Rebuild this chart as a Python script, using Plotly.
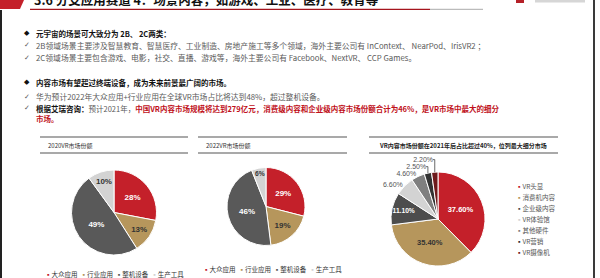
import plotly.graph_objects as go

W, H = 600, 278
def X(px): return px / W
def Y(py): return 1 - py / H

# ---------------- data ----------------
labels_market = ["大众应用", "行业应用", "整机设备", "生产工具"]
share_2020 = [28, 13, 49, 10]
share_2022 = [29, 19, 46, 6]
colors_market = ["#C4202A", "#B6965C", "#595959", "#D3D3D3"]
text_colors_market = ["#FFFFFF", "#333333", "#FFFFFF", "#333333"]

labels_content = ["VR头显", "消费机内容", "企业级内容", "VR体验馆", "其他硬件", "VR营销", "VR摄像机"]
share_content = [37.6, 35.4, 11.1, 6.6, 4.6, 2.5, 2.2]
colors_content = ["#C4202A", "#B6965C", "#4D4D4D", "#D3D3D3", "#7F7F7F", "#333333", "#6E1A1C"]
textpos_content = ["inside", "inside", "inside", "outside", "outside", "outside", "outside"]

title_text = "3.6 分支应用赛道 4：场景内容，如游戏、工业、医疗、教育等"
panel_titles = ["2020VR市场份额", "2022VR市场份额", "VR内容市场份额在2021年后占比超过40%，位列最大细分市场"]

CJK = "Noto Sans CJK SC, DejaVu Sans"
GRAY = "#5A5A5A"
RED = "#C0101A"
BLK = "#111111"

fig = go.Figure()

def pie(values, labels, colors, tcolors, cx, cy, r, template, textpos="inside", tsize=8):
    fig.add_trace(go.Pie(
        values=values, labels=labels, sort=False, direction="clockwise", rotation=0,
        marker=dict(colors=colors, line=dict(color="white", width=1)),
        texttemplate=template, textposition=textpos, insidetextorientation="horizontal",
        insidetextfont=dict(color=tcolors, size=tsize, family="Liberation Sans", weight="bold"),
        outsidetextfont=dict(color="#555555", size=7, family="Liberation Sans"),
        domain=dict(x=[X(cx - r), X(cx + r)], y=[Y(cy + r), Y(cy - r)]),
        showlegend=False, hoverinfo="label+percent",
    ))

pie(share_2020, labels_market, colors_market, text_colors_market, 114, 212.5, 42.5, "%{value}%")
pie(share_2022, labels_market, colors_market, text_colors_market, 266, 206.5, 39, "%{value}%")
pie(share_content, labels_content, colors_content,
    ["#FFFFFF", "#333333", "#FFFFFF", "#333333", "#333333", "#333333", "#333333"],
    438, 219, 47, "%{value:.2f}%", textpos=textpos_content, tsize=7.5)

ann = []
shapes = []

def text(px, py, s, size=7.8, color=GRAY, xanchor="left", weight="normal", family=CJK):
    ann.append(dict(x=X(px), y=Y(py), xref="paper", yref="paper", text=s, showarrow=False,
                    xanchor=xanchor, yanchor="middle", borderpad=0,
                    font=dict(size=size, color=color, family=family, weight=weight)))

def line(x0, y0, x1, y1, color, width=1):
    shapes.append(dict(type="line", xref="paper", yref="paper", x0=X(x0), y0=Y(y0), x1=X(x1), y1=Y(y1),
                       line=dict(color=color, width=width)))

def rect(x0, y0, x1, y1, color):
    shapes.append(dict(type="rect", xref="paper", yref="paper", x0=X(x0), y0=Y(y0), x1=X(x1), y1=Y(y1),
                       fillcolor=color, line=dict(width=0)))

# header
shapes.append(dict(type="path", xref="paper", yref="paper",
                   path=f"M {X(0)} {Y(0)} L {X(24)} {Y(0)} L {X(20)} {Y(9)} L {X(0)} {Y(9)} Z",
                   fillcolor="#C4202A", line=dict(width=0)))
text(33, -0.5, title_text, size=12.5, color=BLK, weight="bold")
line(30, 9.3, 430, 9.3, "#A5141D", 1.2)
line(430, 9.3, 483, 9.3, "#BBBBBB", 1.2)
rect(516, 0, 524, 3, "#B52028")
rect(535, 0, 585, 2.5, "#D6D6D6")
# page borders
rect(0, 10, 2, 278, "#222222")
rect(593, 0, 595, 278, "#3A3A3A")

# body text
text(27, 33, "◆", size=7, color=BLK, xanchor="center", family="DejaVu Sans")
text(35, 33, "元宇宙的场景可大致分为 2B、 2C两类：", size=7.5, color=BLK, weight="bold")
text(27, 45, "✓", size=7, color=GRAY, xanchor="center", family="DejaVu Sans")
text(35, 45, "2B领域场景主要涉及智慧教育、智慧医疗、工业制造、房地产施工等多个领域，海外主要公司有 InContext、 NearPod、IrisVR2 ；")
text(27, 57.5, "✓", size=7, color=GRAY, xanchor="center", family="DejaVu Sans")
text(35, 57.5, "2C领域场景主要包含游戏、电影，社交、直播、游戏等，海外主要公司有 Facebook、NextVR、 CCP Games。")
text(27, 82.5, "◆", size=7, color=BLK, xanchor="center", family="DejaVu Sans")
text(35, 82.5, "内容市场有望超过终端设备，成为未来前景最广阔的市场。", size=7.5, color=BLK, weight="bold")
text(27, 96.5, "✓", size=7, color=GRAY, xanchor="center", family="DejaVu Sans")
text(35, 96.5, "华为预计2022年大众应用+行业应用在全球VR市场占比将达到48%，超过整机设备。")
text(27, 108, "✓", size=7, color=GRAY, xanchor="center", family="DejaVu Sans")
text(35, 108, "<b>根据艾瑞咨询：</b><span style='color:%s'>预计2021年，</span>"
              "<span style='color:%s'><b>中国VR内容市场规模将达到279亿元，消费级内容和企业级内容市场份额合计为46%%，是VR市场中最大的细分</b></span>" % (GRAY, RED),
     size=7.5, color=BLK)
text(35, 118.5, "<b>市场。</b>", size=7.5, color=RED)

# panels
for (x0, x1) in [(40, 188), (198, 347), (369, 558)]:
    line(x0, 137, x1, 137, "#555555", 1.2)
    line(x0, 153, x1, 153, "#555555", 1.2)
text(47, 145, panel_titles[0], size=6, color="#333333")
text(205, 145, panel_titles[1], size=6, color="#333333")
text(463, 145, panel_titles[2], size=6, color="#222222", xanchor="center", weight="bold")

# legends
def hlegend(px, py, labels, colors):
    s = "  ".join("<span style='color:%s'>▪</span>%s" % (c, l) for l, c in zip(labels, colors))
    text(px, py, s, size=6.5, color="#333333", xanchor="center")

hlegend(114, 273.5, labels_market, colors_market)
hlegend(272, 268.5, labels_market, colors_market)
for i, (l, c) in enumerate(zip(labels_content, colors_content)):
    text(515, 186 + 11 * i, "<span style='color:%s'>▪</span>%s" % (c, l), size=6.5, color="#555555")

fig.update_layout(width=W, height=H, margin=dict(l=0, r=0, t=0, b=0),
                  paper_bgcolor="white", plot_bgcolor="white",
                  annotations=ann, shapes=shapes)
fig.write_html("out.html")
